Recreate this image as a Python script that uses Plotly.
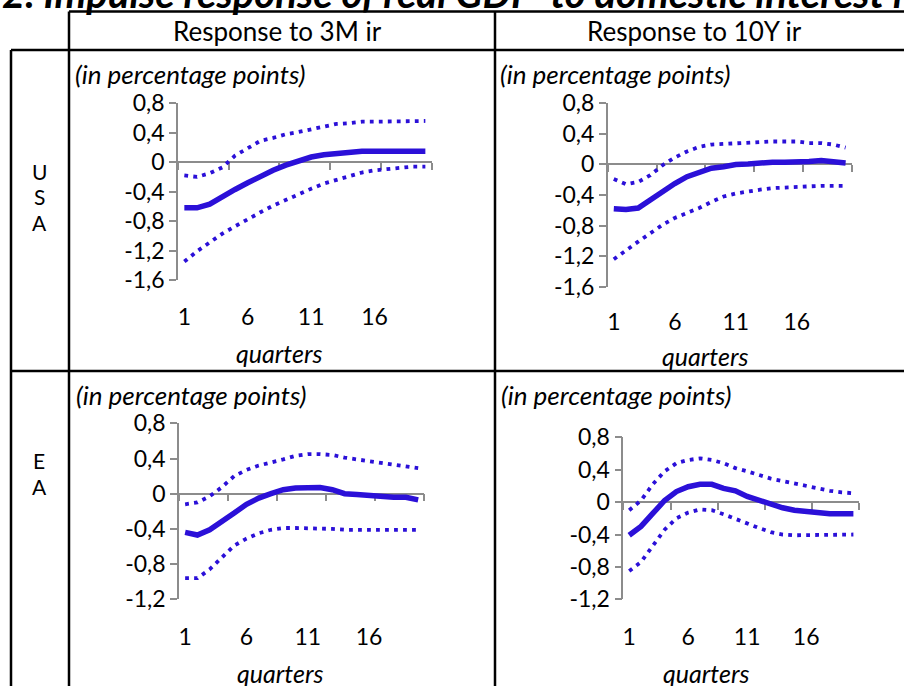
import plotly.graph_objects as go

W, H = 904, 686
FONT = "Lato"
BLUE = "#2B10D8"
GRAY = "#8C8C8C"

quarters = list(range(1, 21))

# USA, response to 3M ir
usa_3m_mid = [-0.62, -0.62, -0.57, -0.46, -0.37, -0.28, -0.19, -0.11, -0.04, 0.02,
              0.07, 0.10, 0.12, 0.13, 0.15, 0.15, 0.15, 0.15, 0.15, 0.15]
usa_3m_up = [-0.18, -0.20, -0.15, -0.07, 0.09, 0.19, 0.29, 0.33, 0.38, 0.41,
             0.45, 0.49, 0.52, 0.53, 0.55, 0.55, 0.55, 0.56, 0.56, 0.56]
usa_3m_lo = [-1.35, -1.21, -1.09, -0.97, -0.87, -0.77, -0.68, -0.59, -0.51, -0.43,
             -0.36, -0.29, -0.24, -0.18, -0.14, -0.11, -0.09, -0.07, -0.06, -0.06]

# USA, response to 10Y ir
usa_10y_mid = [-0.58, -0.59, -0.57, -0.46, -0.36, -0.25, -0.16, -0.10, -0.05, -0.03,
               0.00, 0.005, 0.02, 0.03, 0.03, 0.03, 0.04, 0.05, 0.03, 0.02]
usa_10y_up = [-0.19, -0.26, -0.23, -0.14, -0.01, 0.09, 0.17, 0.23, 0.26, 0.27,
              0.27, 0.29, 0.30, 0.30, 0.30, 0.30, 0.28, 0.28, 0.26, 0.22]
usa_10y_lo = [-1.24, -1.12, -1.01, -0.90, -0.79, -0.70, -0.64, -0.57, -0.49, -0.42,
              -0.38, -0.35, -0.33, -0.31, -0.30, -0.29, -0.28, -0.28, -0.28, -0.28]

# EA, response to 3M ir
ea_3m_mid = [-0.44, -0.47, -0.41, -0.32, -0.22, -0.12, -0.05, 0.00, 0.045, 0.064,
             0.07, 0.07, 0.045, 0.00, -0.01, -0.02, -0.04, -0.04, -0.04, -0.07]
ea_3m_up = [-0.12, -0.10, -0.03, 0.075, 0.20, 0.27, 0.32, 0.35, 0.39, 0.43,
            0.45, 0.45, 0.44, 0.41, 0.39, 0.38, 0.36, 0.34, 0.31, 0.29]
ea_3m_lo = [-0.96, -0.96, -0.86, -0.73, -0.59, -0.51, -0.45, -0.41, -0.39, -0.39,
            -0.39, -0.39, -0.40, -0.41, -0.41, -0.41, -0.41, -0.41, -0.41, -0.41]

# EA, response to 10Y ir
ea_10y_mid = [-0.41, -0.30, -0.14, 0.02, 0.13, 0.19, 0.22, 0.22, 0.17, 0.14,
              0.07, 0.02, -0.03, -0.07, -0.10, -0.12, -0.14, -0.145, -0.145, -0.145]
ea_10y_up = [-0.10, 0.02, 0.22, 0.38, 0.48, 0.52, 0.54, 0.52, 0.48, 0.42,
             0.38, 0.33, 0.29, 0.26, 0.23, 0.19, 0.16, 0.14, 0.12, 0.11]
ea_10y_lo = [-0.85, -0.74, -0.54, -0.34, -0.20, -0.13, -0.09, -0.10, -0.15, -0.21,
             -0.27, -0.32, -0.37, -0.40, -0.41, -0.41, -0.41, -0.41, -0.41, -0.40]

x_label_vals = [1, 6, 11, 16]
x_tick_bounds = [0.5, 4.5, 8.5, 12.5, 16.5, 20.5]
y_ticks_usa = [-1.6, -1.2, -0.8, -0.4, 0.0, 0.4, 0.8]
y_ticks_ea = [-1.2, -0.8, -0.4, 0.0, 0.4, 0.8]

title_text = "2. Impulse response of real GDP  to domestic interest rate"
col_headers = ["Response to 3M ir", "Response to 10Y ir"]
row_headers = [["U", "S", "A"], ["E", "A"]]
unit_text = "(in percentage points)"
xaxis_title = "quarters"

TICK_FS = 23
UNIT_FS = 26
Q_FS = 25
HEAD_FS = 26
ROW_FS = 21
TITLE_FS = 40


def fmt(v):
    if abs(v) < 1e-9:
        return "0"
    return ("%.1f" % v).replace(".", ",")


def px_x(p):
    return p / W


def px_y(p):
    return 1 - p / H


# panel geometry in pixels: (x0, x1, ytop, ybottom), label centre y
panels = [
    dict(mid=usa_3m_mid, up=usa_3m_up, lo=usa_3m_lo, yt=y_ticks_usa,
         box=(178, 431.7, 103.3, 280), lab_y=317, unit=(73, 74), q=(279, 353)),
    dict(mid=usa_10y_mid, up=usa_10y_up, lo=usa_10y_lo, yt=y_ticks_usa,
         box=(607.7, 851.7, 103.3, 286.7), lab_y=321.7, unit=(498, 74), q=(705, 356)),
    dict(mid=ea_3m_mid, up=ea_3m_up, lo=ea_3m_lo, yt=y_ticks_ea,
         box=(179, 424.3, 423.3, 599.3), lab_y=636.7, unit=(74, 395), q=(280, 673)),
    dict(mid=ea_10y_mid, up=ea_10y_up, lo=ea_10y_lo, yt=y_ticks_ea,
         box=(623.3, 859.3, 437.3, 599.3), lab_y=636.7, unit=(499, 395), q=(706, 673)),
]

fig = go.Figure()
layout = dict(width=W, height=H, margin=dict(l=0, r=0, t=0, b=0, autoexpand=False),
              paper_bgcolor="white", plot_bgcolor="rgba(0,0,0,0)",
              showlegend=False, font=dict(family=FONT, color="black"))
annotations = []
shapes = []

for i, p in enumerate(panels):
    n = i + 1
    xa = "x" if n == 1 else "x%d" % n
    ya = "y" if n == 1 else "y%d" % n
    xo = "x%d" % (n + 4)
    x0, x1, yt, yb = p["box"]
    ylo, yhi = min(p["yt"]), max(p["yt"])
    xdom = [px_x(x0), px_x(x1)]
    ydom = [px_y(yb), px_y(yt)]
    zero_pos = ydom[0] + (0 - ylo) / (yhi - ylo) * (ydom[1] - ydom[0])
    standoff = int(round(p["lab_y"] - yb - 0.6 * TICK_FS - 2))

    # horizontal axis crossing at zero, with category boundary ticks
    layout["xaxis" if n == 1 else "xaxis%d" % n] = dict(
        domain=xdom, range=[0.5, 20.5], anchor="free", position=zero_pos,
        showline=True, linecolor=GRAY, linewidth=1.5, ticks="outside",
        tickvals=x_tick_bounds, ticklen=7, tickwidth=1.5, tickcolor=GRAY,
        showticklabels=False, showgrid=False, zeroline=False, layer="below traces",
        fixedrange=True)
    # labels axis at the bottom
    layout["xaxis%d" % (n + 4)] = dict(
        overlaying=xa, anchor=ya, range=[0.5, 20.5], side="bottom",
        showline=False, ticks="", tickvals=x_label_vals,
        ticktext=[str(v) for v in x_label_vals], ticklabelstandoff=standoff,
        tickfont=dict(size=TICK_FS, family=FONT, color="black"),
        showgrid=False, zeroline=False, fixedrange=True)
    layout["yaxis" if n == 1 else "yaxis%d" % n] = dict(
        domain=ydom, range=[ylo, yhi], anchor=xa, showline=True, linecolor=GRAY,
        linewidth=1.5, ticks="outside", ticklen=7, tickwidth=1.5, tickcolor=GRAY,
        tickvals=p["yt"], ticktext=[fmt(v) for v in p["yt"]],
        tickfont=dict(size=TICK_FS, family=FONT, color="black"),
        showgrid=False, zeroline=False, fixedrange=True, ticklabelstandoff=0)

    for band in ("up", "lo"):
        fig.add_trace(go.Scatter(x=quarters, y=p[band], xaxis=xa, yaxis=ya,
                                 mode="lines", line=dict(color=BLUE, width=3.8,
                                                         dash="3.8px,5.2px"),
                                 hoverinfo="skip"))
    fig.add_trace(go.Scatter(x=quarters, y=p["mid"], xaxis=xa, yaxis=ya,
                             mode="lines", line=dict(color=BLUE, width=5.5),
                             hoverinfo="skip"))
    fig.add_trace(go.Scatter(x=[None], y=[None], xaxis=xo, yaxis=ya,
                             mode="lines", hoverinfo="skip"))

    ux, uy = p["unit"]
    annotations.append(dict(text="<i>%s</i>" % unit_text, x=px_x(ux), y=px_y(uy),
                            xref="paper", yref="paper", xanchor="left",
                            yanchor="middle", showarrow=False,
                            font=dict(size=UNIT_FS, family=FONT)))
    qx, qy = p["q"]
    annotations.append(dict(text="<i>%s</i>" % xaxis_title, x=px_x(qx), y=px_y(qy),
                            xref="paper", yref="paper", xanchor="center",
                            yanchor="middle", showarrow=False,
                            font=dict(size=Q_FS, family=FONT)))

# title (clipped at the top, like the source)
annotations.append(dict(text="<b><i>%s</i></b>" % title_text, x=px_x(0),
                        y=px_y(8 - 0.387 * TITLE_FS), xref="paper", yref="paper",
                        xanchor="left", yanchor="middle", showarrow=False,
                        font=dict(size=TITLE_FS, family=FONT)))
# column headers
for txt, cx in zip(col_headers, [277, 694]):
    annotations.append(dict(text=txt, x=px_x(cx), y=px_y(31), xref="paper",
                            yref="paper", xanchor="center", yanchor="middle",
                            showarrow=False, font=dict(size=HEAD_FS, family=FONT)))
# row headers (one letter per line)
for letters, cy in zip(row_headers, [197, 473.5]):
    k = len(letters)
    for j, ch in enumerate(letters):
        yy = cy + (j - (k - 1) / 2) * 25.5
        annotations.append(dict(text=ch, x=px_x(39), y=px_y(yy), xref="paper",
                                yref="paper", xanchor="center", yanchor="middle",
                                showarrow=False, font=dict(size=ROW_FS, family=FONT)))


# table grid
def hline(y, xa_, xb_):
    shapes.append(dict(type="line", xref="paper", yref="paper", x0=px_x(xa_),
                       x1=px_x(xb_), y0=px_y(y), y1=px_y(y),
                       line=dict(color="black", width=2.5)))


def vline(x, ya_, yb_):
    shapes.append(dict(type="line", xref="paper", yref="paper", x0=px_x(x),
                       x1=px_x(x), y0=px_y(ya_), y1=px_y(yb_),
                       line=dict(color="black", width=2.5)))


hline(11.5, 69, 910)
hline(50, 11, 910)
hline(371, 11, 910)
vline(11, 50, 700)
vline(69, 11.5, 700)
vline(495, 11.5, 700)

layout["annotations"] = annotations
layout["shapes"] = shapes
fig.update_layout(**layout)
fig.write_html("out.html", config={"displayModeBar": False},
               post_script="document.body.style.margin='0';document.body.style.overflow='hidden';")
